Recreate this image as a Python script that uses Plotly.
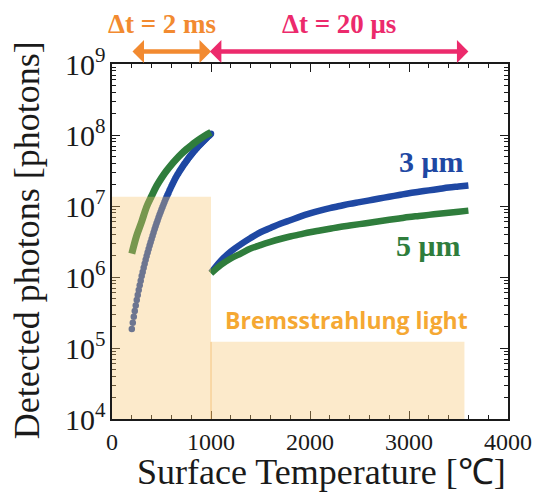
import math
import plotly.graph_objects as go

# ---- data ----
# 3 um, low-temperature segment (delta t = 2 ms), 10 degC steps 200..1000
t_low_3um = list(range(200, 1001, 10))
photons_low_3um = [
    1.85e5, 2.27e5, 2.76e5, 3.33e5, 3.98e5, 4.74e5, 5.60e5, 6.56e5, 7.67e5, 8.89e5,
    1.03e6, 1.18e6, 1.35e6, 1.54e6, 1.75e6, 1.97e6, 2.21e6, 2.48e6, 2.77e6, 3.09e6,
    3.43e6, 3.81e6, 4.24e6, 4.69e6, 5.18e6, 5.70e6, 6.27e6, 6.87e6, 7.50e6, 8.18e6,
    8.91e6, 9.68e6, 1.05e7, 1.14e7, 1.23e7, 1.33e7, 1.43e7, 1.53e7, 1.65e7, 1.77e7,
    1.89e7, 2.02e7, 2.16e7, 2.30e7, 2.45e7, 2.61e7, 2.75e7, 2.90e7, 3.05e7, 3.21e7,
    3.37e7, 3.54e7, 3.72e7, 3.89e7, 4.07e7, 4.27e7, 4.46e7, 4.65e7, 4.85e7, 5.06e7,
    5.26e7, 5.48e7, 5.70e7, 5.93e7, 6.15e7, 6.38e7, 6.62e7, 6.86e7, 7.11e7, 7.36e7,
    7.62e7, 7.87e7, 8.13e7, 8.39e7, 8.67e7, 8.95e7, 9.23e7, 9.51e7, 9.79e7, 1.01e8,
    1.04e8,
]

# 5 um, low-temperature segment
t_low_5um = [200, 250, 300, 350, 400, 450, 500, 550, 600, 650, 700, 750, 800, 850, 900, 950, 1000]
photons_low_5um = [2.14e6, 3.86e6, 6.03e6, 9.77e6, 1.38e7, 1.91e7, 2.48e7, 3.12e7, 3.82e7,
                   4.58e7, 5.40e7, 6.25e7, 7.14e7, 8.07e7, 9.02e7, 9.98e7, 1.09e8]

# high-temperature segment (delta t = 20 us)
t_high = [1000, 1100, 1200, 1300, 1400, 1500, 1600, 1700, 1800, 1900, 2000, 2100, 2200, 2300,
          2400, 2500, 2600, 2700, 2800, 2900, 3000, 3100, 3200, 3300, 3400, 3500, 3600]
photons_high_3um = [1.148e6, 1.698e6, 2.291e6, 2.884e6, 3.548e6, 4.266e6, 4.898e6, 5.623e6,
                    6.310e6, 7.079e6, 7.852e6, 8.610e6, 9.333e6, 1.000e7, 1.072e7, 1.135e7,
                    1.202e7, 1.274e7, 1.349e7, 1.429e7, 1.514e7, 1.585e7, 1.660e7, 1.738e7,
                    1.820e7, 1.884e7, 1.950e7]
photons_high_5um = [1.122e6, 1.479e6, 1.820e6, 2.138e6, 2.512e6, 2.818e6, 3.126e6, 3.428e6,
                    3.715e6, 3.981e6, 4.266e6, 4.519e6, 4.786e6, 5.070e6, 5.309e6, 5.559e6,
                    5.821e6, 6.095e6, 6.383e6, 6.683e6, 6.998e6, 7.244e6, 7.499e6, 7.762e6,
                    8.035e6, 8.318e6, 8.610e6]

# Bremsstrahlung light bands: (T start, T end, photon level)
brems_t_start = [0, 1000]
brems_t_end = [1000, 3560]
brems_level = [1.35e7, 1.22e5]

BLUE = "#1f48a3"
GREEN = "#2f7d3c"
ORANGE = "#f28a30"
PINK = "#ec2a6c"
BREMS = "#f5a833"
SERIF = "Liberation Serif, Times New Roman, serif"

fig = go.Figure()

fig.add_trace(go.Scatter(x=t_low_3um, y=photons_low_3um, mode="markers",
                         marker=dict(size=6.5, color=BLUE, line=dict(width=0)),
                         showlegend=False))
fig.add_trace(go.Scatter(x=t_high, y=photons_high_3um, mode="lines",
                         line=dict(width=6.5, color=BLUE, shape="spline"),
                         showlegend=False))
fig.add_trace(go.Scatter(x=t_low_5um, y=photons_low_5um, mode="lines",
                         line=dict(width=7, color=GREEN, shape="spline"),
                         showlegend=False))
fig.add_trace(go.Scatter(x=t_high, y=photons_high_5um, mode="lines",
                         line=dict(width=6.5, color=GREEN, shape="spline"),
                         showlegend=False))

shapes = []
for xs, xe, lv in zip(brems_t_start, brems_t_end, brems_level):
    shapes.append(dict(type="rect", xref="x", yref="y", x0=xs, x1=xe, y0=1e4, y1=lv,
                       fillcolor="rgba(248,196,112,0.36)", line=dict(width=0),
                       layer="above"))
# faint seam where the two bands meet
shapes.append(dict(type="line", xref="x", yref="y", x0=brems_t_end[0], x1=brems_t_end[0],
                   y0=1e4, y1=brems_level[1], line=dict(color="rgba(240,175,80,0.6)", width=1),
                   layer="above"))

annotations = [
    dict(x=0.53, y=-0.149, xref="paper", yref="paper", text="Surface Temperature [℃]",
         showarrow=False, font=dict(family=SERIF, size=36, color="#1a1a1a"),
         xanchor="center", yanchor="middle"),
    dict(x=-0.216, y=0.505, xref="paper", yref="paper", text="Detected photons [photons]",
         showarrow=False, textangle=-90, font=dict(family=SERIF, size=36, color="#1a1a1a"),
         xanchor="center", yanchor="middle"),
    dict(x=3230, y=math.log10(4.2e7), xref="x", yref="y", text="<b>3 μm</b>",
         showarrow=False, font=dict(family=SERIF, size=30, color=BLUE),
         xanchor="center", yanchor="middle"),
    dict(x=3197, y=math.log10(2.8e6), xref="x", yref="y", text="<b>5 μm</b>",
         showarrow=False, font=dict(family=SERIF, size=30, color=GREEN),
         xanchor="center", yanchor="middle"),
    dict(x=2370, y=math.log10(2.48e5), xref="x", yref="y", text="<b>Bremsstrahlung light</b>",
         showarrow=False, font=dict(family="Open Sans, sans-serif", size=23, color=BREMS),
         xanchor="center", yanchor="middle"),
    # arrows
    dict(x=1000, y=1.035, xref="x", yref="paper", ax=-80, ay=0, text="",
         showarrow=True, arrowhead=1, startarrowhead=1, arrowside="end+start",
         arrowwidth=4.5, arrowsize=0.85, arrowcolor=ORANGE, standoff=0, startstandoff=0),
    dict(x=3600, y=1.035, xref="x", yref="paper", ax=-260, ay=0, text="",
         showarrow=True, arrowhead=1, startarrowhead=1, arrowside="end+start",
         arrowwidth=4.5, arrowsize=0.85, arrowcolor=PINK, standoff=0, startstandoff=0),
    dict(x=500, y=1.112, xref="x", yref="paper", text="<b>Δt = 2 ms</b>", showarrow=False,
         font=dict(family=SERIF, size=27, color=ORANGE), xanchor="center", yanchor="middle"),
    dict(x=2290, y=1.112, xref="x", yref="paper", text="<b>Δt = 20 μs</b>", showarrow=False,
         font=dict(family=SERIF, size=27, color=PINK), xanchor="center", yanchor="middle"),
]

axis_common = dict(showline=True, linecolor="#1a1a1a", linewidth=1.5, mirror="allticks",
                   ticks="inside", tickcolor="#1a1a1a", tickwidth=1.2, showgrid=False,
                   zeroline=False, tickfont=dict(family=SERIF, size=24, color="#1a1a1a"))

# the page body has an 8px margin, so the figure is 8px smaller than the window
fig.update_layout(
    width=536, height=487,
    margin=dict(l=104, r=30, t=56, b=76),
    paper_bgcolor="white", plot_bgcolor="white",
    shapes=shapes, annotations=annotations,
    xaxis=dict(range=[0, 4000], tick0=0, dtick=1000, ticklen=8,
               minor=dict(dtick=200, ticks="inside", ticklen=4, tickcolor="#1a1a1a",
                          tickwidth=1, showgrid=False),
               **axis_common),
    yaxis=dict(type="log", range=[4, 9], dtick=1, ticklen=8, exponentformat="power",
               minor=dict(dtick="D1", ticks="inside", ticklen=4, tickcolor="#1a1a1a",
                          tickwidth=1, showgrid=False),
               **axis_common),
)

fig.write_html("out.html")
